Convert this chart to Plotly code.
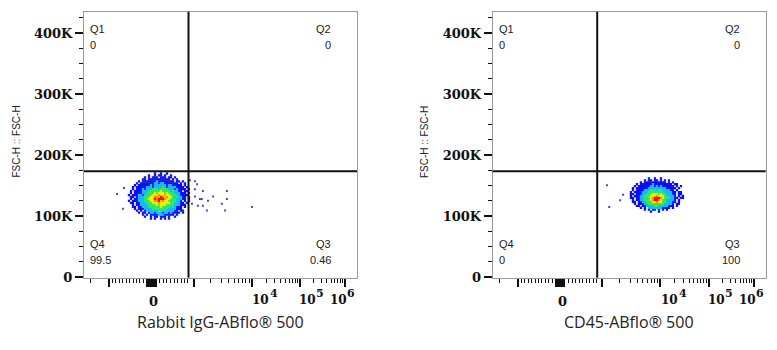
import plotly.graph_objects as go

# ---------------- data ----------------
# x axis is in display channels (biexponential scale, 0..1024)
X_MAJOR_TICKS = [94, 237, 241, 245, 249, 253, 257, 261, 265, 269, 411, 629, 810, 979]
X_MINOR_TICKS = [25, 107, 120, 133, 146, 159, 172, 184, 197, 210, 225,
                 285, 298, 311, 324, 338, 351, 364, 377, 390,
                 476, 515, 542, 563, 580, 595, 607.5, 619,
                 683, 714.5, 737, 755, 769, 781, 792, 801,
                 860.6, 890.6, 911, 928, 941, 952.5, 962, 971]
X_LABELS = ["0", "10", "10", "10"]
X_LABEL_POS = [262, 622, 799, 915]
X_LABEL_EXP = ["", "4", "5", "6"]
X_LABEL_EXP_POS = [0, 690, 862, 980]

Y_TICKS = [0, 100000, 200000, 300000, 400000]
Y_TICK_TEXT = ["0", "100K", "200K", "300K", "400K"]
Y_MINOR_TICKS = [25000, 50000, 75000, 125000, 150000, 175000, 225000, 250000,
                 275000, 325000, 350000, 375000, 425000]

GATE_X = 392        # channel
GATE_Y = 173500     # FSC-H

X_TITLES = ["Rabbit IgG-ABflo® 500", "CD45-ABflo® 500"]
Y_TITLE = "FSC-H :: FSC-H"
Q_NAMES = ["Q1", "Q2", "Q3", "Q4"]
Q_VALUES = [["0", "0", "0.46", "99.5"], ["0", "0", "100", "0"]]

# pseudocolor density bins (. empty, 1 blue ... 6 red), rows top->bottom
LEFT_GRID = [
    "..............1..1..1...........",
    "...........1..1.11.1..1.........",
    ".........1.1.111.111.11.1.......",
    "........11.11111111111.1.1......",
    "......1.1111111211111111.11.1...",
    ".....1.1111111221221111111.1.1..",
    "....1.1111112122222212211111.1..",
    "...1.111112221222232122221111.1.",
    "...1.1112122233323333222121111.1",
    "..1.111122233333343333232211.11.",
    "..1.11112223334344434333222111.1",
    ".1.1112212333444544344333221111.",
    "..11.1222333445546545443232211.1",
    "..1.11222334446566654433322211.1",
    ".1.1112223334455645443333221.1.1",
    "..11.112223334445444443322211.1.",
    "...1.1122223333434443333222111..",
    "...11.1122233333343333232111.1..",
    "....1.1112222333333332222111....",
    ".....1.1.12222223322222211.11...",
    "......1.11.1221222122121111.1...",
    "........1.1.111122211111.1......",
    ".........1..1.11.111.1..1.......",
    "............1.1..1.1.1.........."
]
LEFT_X0, LEFT_DX = 161.25, 7.5          # channel of first column, channel per bin
LEFT_Y0, LEFT_DY = 169800, 3213         # FSC-H of first row, FSC-H per bin

RIGHT_GRID = [
    ".........1..1..1...........",
    ".......1.11.11.1.1.1.......",
    ".....1.11111111111.1.1.....",
    "...1.1111112111111111.11...",
    "..1.111111221212111111.1.1.",
    ".1.11111122222222211111.1..",
    ".1.1111222333233222211.1...",
    "1.111122233333333222211.11.",
    "11.11122333444343322211.11.",
    "1.111223334445444332221.1.1",
    "11.112233345666543332211.11",
    ".1.11223334566543322221.1..",
    ".11.1122333445443322211.1..",
    "..1.111223333333322221.11..",
    "...11.1122223322222111.1...",
    ".....1.1.22222221111.1.....",
    ".......1.1.11.1.1.1........",
    "..........1...1............"
]
RIGHT_X0, RIGHT_DX = 518.6, 7.5
RIGHT_Y0, RIGHT_DY = 161800, 3213

# isolated events (channel, FSC-H)
LEFT_SPARSE_X = [124, 397, 416, 416, 446, 536, 416, 442, 484, 465, 536, 405, 427, 446,
                 517, 529, 630, 461, 424, 435, 146, 150]
LEFT_SPARSE_Y = [136000, 158600, 157000, 144000, 141000, 141000, 132000, 128000, 132000,
                 125000, 128000, 120000, 117000, 117000, 120000, 109000, 115000, 109000,
                 152000, 128000, 112000, 146000]
RIGHT_SPARSE_X = [429, 489, 478, 437]
RIGHT_SPARSE_Y = [150500, 135000, 126000, 115000]

LEVEL_COLORS = {"1": "#0a10f0", "2": "#14b8ff", "3": "#30e860", "4": "#f0f000",
                "5": "#ff9000", "6": "#f01010"}
SPARSE_COLOR = "#4848d8"

# ---------------- figure ----------------
DOMAINS = [[84 / 777, 357 / 777], [492.7 / 777, 765.7 / 777]]
Y_DOMAIN = [(350 - 283.3) / 350, (350 - 12) / 350]

fig = go.Figure()


def grid_points(grid, width, x0, dx, y0, dy):
    pts = {k: ([], []) for k in LEVEL_COLORS}
    for r, row in enumerate(grid):
        row = row[:width].ljust(width, ".")
        for c, ch in enumerate(row):
            if ch in LEVEL_COLORS:
                pts[ch][0].append(x0 + c * dx)
                pts[ch][1].append(y0 - r * dy)
    return pts


panels = [
    (LEFT_GRID, 32, LEFT_X0, LEFT_DX, LEFT_Y0, LEFT_DY, LEFT_SPARSE_X, LEFT_SPARSE_Y),
    (RIGHT_GRID, 27, RIGHT_X0, RIGHT_DX, RIGHT_Y0, RIGHT_DY, RIGHT_SPARSE_X, RIGHT_SPARSE_Y),
]

for i, (grid, w, x0, dx, y0, dy, sx, sy) in enumerate(panels):
    xa = "x" if i == 0 else "x2"
    ya = "y" if i == 0 else "y2"
    fig.add_trace(go.Scatter(x=sx, y=sy, mode="markers", xaxis=xa, yaxis=ya,
                             marker=dict(symbol="square", size=2, color=SPARSE_COLOR,
                                         line=dict(width=0)),
                             showlegend=False, hoverinfo="skip"))
    pts = grid_points(grid, w, x0, dx, y0, dy)
    for lvl in sorted(LEVEL_COLORS):
        xs, ys = pts[lvl]
        fig.add_trace(go.Scatter(x=xs, y=ys, mode="markers", xaxis=xa, yaxis=ya,
                                 marker=dict(symbol="square", size=2.3,
                                             color=LEVEL_COLORS[lvl], line=dict(width=0)),
                                 showlegend=False, hoverinfo="skip"))

tick_font = dict(family="DejaVu Serif", size=13, color="#111", weight="bold")
base_font = dict(family="DejaVu Serif", size=12, color="#111", weight="bold")
exp_font = dict(family="DejaVu Serif", size=11, color="#111", weight="bold")

for i in range(2):
    sx = "" if i == 0 else "2"
    fig.layout["xaxis" + sx] = dict(
        domain=DOMAINS[i], range=[0, 1024], anchor="y" + sx,
        showgrid=False, zeroline=False, showline=True, linecolor="#9a9a9a",
        linewidth=1, mirror=True, showticklabels=False,
        tickmode="array", tickvals=X_MAJOR_TICKS,
        ticks="outside", ticklen=8, tickwidth=2, tickcolor="#111",
        minor=dict(tickmode="array", tickvals=X_MINOR_TICKS, ticks="outside",
                   ticklen=4, tickwidth=1, tickcolor="#111"),
    )
    fig.layout["yaxis" + sx] = dict(
        domain=Y_DOMAIN, range=[-1000, 435000], anchor="x" + sx,
        showgrid=False, zeroline=False, showline=True, linecolor="#9a9a9a",
        linewidth=1, mirror=True,
        tickmode="array", tickvals=Y_TICKS, ticktext=Y_TICK_TEXT, tickfont=tick_font,
        ticks="outside", ticklen=8, tickwidth=2, tickcolor="#111",
        minor=dict(tickmode="array", tickvals=Y_MINOR_TICKS, ticks="outside",
                   ticklen=4, tickwidth=1, tickcolor="#111"),
    )
    xr = "x" + sx
    yr = "y" + sx
    # gates
    fig.add_shape(type="line", xref=xr, yref=yr + " domain", x0=GATE_X, x1=GATE_X, y0=0, y1=1,
                  line=dict(color="#111", width=2))
    fig.add_shape(type="line", xref=xr + " domain", yref=yr, x0=0, x1=1, y0=GATE_Y, y1=GATE_Y,
                  line=dict(color="#111", width=2))
    # x tick labels (base and exponent as separate texts)
    for lab, pos, exp, epos in zip(X_LABELS, X_LABEL_POS, X_LABEL_EXP, X_LABEL_EXP_POS):
        if exp:
            fig.add_annotation(x=pos, y=(350 - 306.5) / 350, xref=xr, yref="paper", text=lab,
                               showarrow=False, xanchor="left", yanchor="middle",
                               font=base_font)
            fig.add_annotation(x=epos, y=(350 - 299) / 350, xref=xr, yref="paper", text=exp,
                               showarrow=False, xanchor="left", yanchor="middle",
                               font=exp_font)
        else:
            fig.add_annotation(x=pos, y=(350 - 307.5) / 350, xref=xr, yref="paper", text=lab,
                               showarrow=False, xanchor="center", yanchor="middle",
                               font=tick_font)
    # axis titles
    fig.add_annotation(x=0.5, y=(350 - 329) / 350, xref=xr + " domain", yref="paper",
                       text=X_TITLES[i], showarrow=False, xanchor="center", yanchor="middle",
                       font=dict(family="Open Sans", size=16, color="#222"))
    fig.add_annotation(x=(16.5 if i == 0 else 424) / 777, y=(350 - 145) / 350, xref="paper",
                       yref="paper", text=Y_TITLE, showarrow=False, textangle=-90,
                       xanchor="center", yanchor="middle",
                       font=dict(family="Liberation Sans", size=10, color="#222"))
    # quadrant labels
    qf = dict(family="Liberation Sans", size=11, color="#222")
    qpos = [(0, 0.934, 0.875, "left", 4), (1, 0.934, 0.875, "right", -24),
            (1, 0.126, 0.067, "right", -24), (0, 0.126, 0.067, "left", 4)]
    for q, (qx, yn, yv, anc, shift) in enumerate(qpos):
        fig.add_annotation(x=qx, y=yn, xref=xr + " domain", yref=yr + " domain",
                           text=Q_NAMES[q], showarrow=False, xanchor=anc, yanchor="middle",
                           xshift=shift, font=qf)
        fig.add_annotation(x=qx, y=yv, xref=xr + " domain", yref=yr + " domain",
                           text=Q_VALUES[i][q], showarrow=False, xanchor=anc, yanchor="middle",
                           xshift=shift, font=qf)

fig.update_layout(width=777, height=350, margin=dict(l=0, r=0, t=0, b=0, pad=0),
                  paper_bgcolor="white", plot_bgcolor="white", showlegend=False)

fig.write_html("out.html")
